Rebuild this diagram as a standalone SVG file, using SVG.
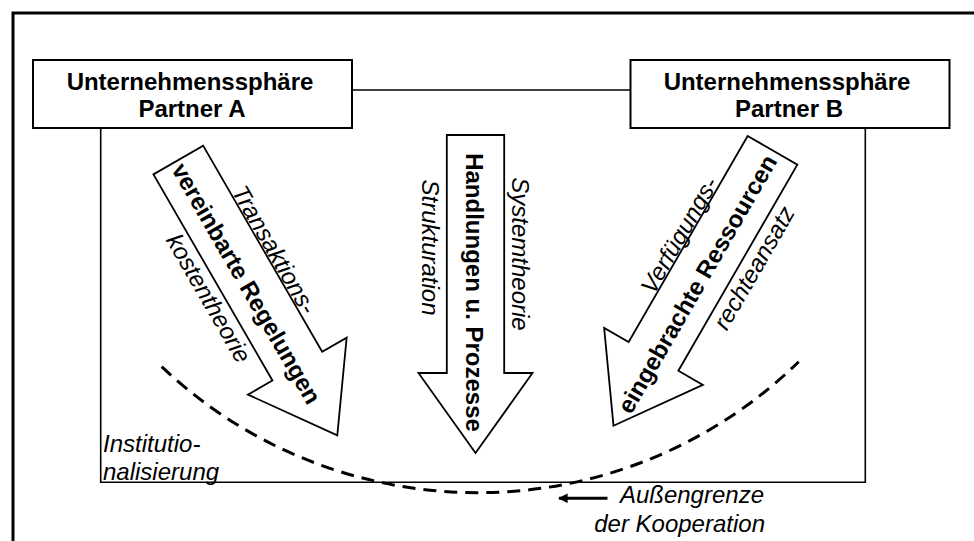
<svg xmlns="http://www.w3.org/2000/svg" width="974" height="541" viewBox="0 0 974 541">
<style>
.box{fill:#fff;stroke:#000;stroke-width:2}
.arrow{fill:#fff;stroke:#000;stroke-width:1.8;stroke-linejoin:miter}
.line{fill:none;stroke:#000;stroke-width:1.6}
.dash{fill:none;stroke:#000;stroke-width:3;stroke-dasharray:13 8}
.b{font-family:"Liberation Sans",Arial,sans-serif;font-weight:bold;font-size:24px;fill:#000}
.i{font-family:"Liberation Sans",Arial,sans-serif;font-style:italic;font-size:24px;fill:#000}
</style>
<defs>
<path id="arr" d="M-28.7,0 L28.7,0 L28.7,238 L57,238 L0,318 L-57,238 L-28.7,238 Z"/>
<marker id="ah" viewBox="0 0 10 10" refX="9" refY="5" markerWidth="3.6" markerHeight="3.2" orient="auto-start-reverse" markerUnits="strokeWidth">
<path d="M0,0 L10,5 L0,10 Z" fill="#000"/>
</marker>
</defs>
<rect width="974" height="541" fill="#fff"/>
<rect id="frame" x="13" y="13" width="1000" height="600" fill="none" stroke="#000" stroke-width="3"/>
<g id="connectors">
<line class="line" x1="352" y1="90" x2="630" y2="90"/>
<polyline class="line" points="100.7,128 100.7,482.3 865.3,482.3 865.3,128" stroke-width="2"/>
<path class="dash" d="M161.7,366.7 A459,459 0 0 0 798.7,361.7"/>
<line x1="607.5" y1="498.3" x2="559" y2="498.3" stroke="#000" stroke-width="3" marker-end="url(#ah)"/>
</g>
<g id="partnerA">
<rect class="box" x="33" y="60" width="319" height="68"/>
<text class="b" x="190" y="89.5" text-anchor="middle">Unternehmenssphäre</text>
<text class="b" x="192" y="117" text-anchor="middle">Partner A</text>
</g>
<g id="partnerB">
<rect class="box" x="630.5" y="60" width="319" height="68"/>
<text class="b" x="787" y="89.5" text-anchor="middle">Unternehmenssphäre</text>
<text class="b" x="789" y="117" text-anchor="middle">Partner B</text>
</g>
<g id="arrowLeft" transform="translate(178.3,160) rotate(-30)">
<use href="#arr" class="arrow"/>
<text class="b" transform="translate(-11,141) rotate(90)" text-anchor="middle">vereinbarte Regelungen</text>
<text class="i" transform="translate(30,125.5) rotate(90)" text-anchor="middle">Transaktions-</text>
<text class="i" transform="translate(-51,135) rotate(90)" text-anchor="middle">kostentheorie</text>
</g>
<g id="arrowMiddle" transform="translate(475.5,135)">
<use href="#arr" class="arrow"/>
<text class="b" transform="translate(-9.5,157.5) rotate(90)" text-anchor="middle">Handlungen u. Prozesse</text>
<text class="i" transform="translate(-53.5,112.5) rotate(90)" text-anchor="middle">Strukturation</text>
<text class="i" transform="translate(36.5,119) rotate(90)" text-anchor="middle">Systemtheorie</text>
</g>
<g id="arrowRight" transform="translate(772.5,150.3) rotate(30)">
<use href="#arr" class="arrow"/>
<text class="b" transform="translate(10,153.5) rotate(-90)" text-anchor="middle">eingebrachte Ressourcen</text>
<text class="i" transform="translate(-30,120) rotate(-90)" text-anchor="middle">Verfügungs-</text>
<text class="i" transform="translate(51,111) rotate(-90)" text-anchor="middle">rechteansatz</text>
</g>
<g id="labelInstitution">
<text class="i" x="103" y="451.7">Institutio-</text>
<text class="i" x="103" y="479.5">nalisierung</text>
</g>
<g id="labelBoundary">
<text class="i" x="764" y="503.3" text-anchor="end">Außengrenze</text>
<text class="i" x="765" y="531.7" text-anchor="end">der Kooperation</text>
</g>
</svg>
